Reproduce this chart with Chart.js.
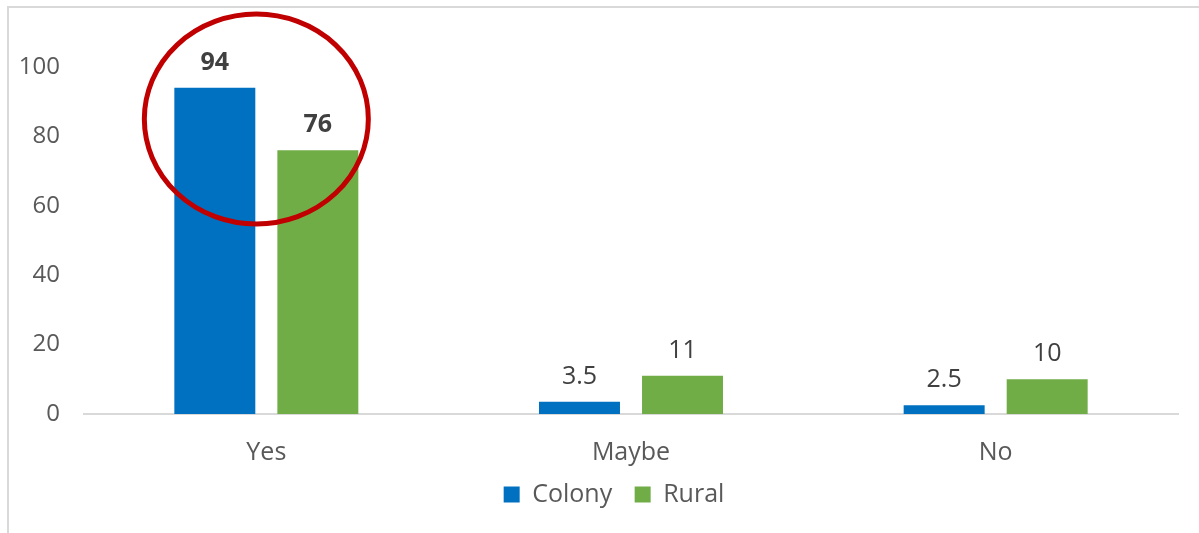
<!DOCTYPE html>
<html>
<head>
<meta charset="utf-8">
<script src="https://cdn.jsdelivr.net/npm/chart.js@4/dist/chart.umd.min.js"></script>
<style>
  html, body { margin: 0; padding: 0; background: #fff; }
  #wrap { width: 1199px; height: 533px; position: relative; }
</style>
</head>
<body>
<div id="wrap"><canvas id="chartOne" width="1199" height="533"></canvas></div>
<script>
// datos del grafico
const categorias = ["Yes", "Maybe", "No"];
const colony = [94, 3.5, 2.5];
const rural = [76, 11, 10];
const yTicks = [0, 20, 40, 60, 80, 100];

const FONT = "'Open Sans', sans-serif";

// marco gris, etiquetas de valores y el circulo rojo
const extras = {
    id: "extras",
    beforeDraw(chart) {
        const ctx = chart.ctx;
        ctx.save();
        ctx.strokeStyle = "#D9D9D9";
        ctx.lineWidth = 2;
        ctx.beginPath();
        ctx.moveTo(8, chart.height);
        ctx.lineTo(8, 7);
        ctx.lineTo(chart.width, 7);
        ctx.stroke();
        ctx.restore();
    },
    afterDatasetsDraw(chart) {
        const ctx = chart.ctx;
        ctx.save();
        ctx.textAlign = "center";
        ctx.textBaseline = "alphabetic";
        ctx.fillStyle = "#404040";
        chart.data.datasets.forEach((ds, i) => {
            const meta = chart.getDatasetMeta(i);
            meta.data.forEach((bar, j) => {
                const bold = j === 0;
                ctx.font = (bold ? "bold " : "") + "25px " + FONT;
                ctx.fillText(String(ds.data[j]), bar.x, bar.y - 18);
            });
        });
        // circulo alrededor del grupo "Yes"
        const x = chart.scales.x;
        const y = chart.scales.y;
        const cx = x.getPixelForValue(0) - 10;
        const cy = y.getPixelForValue(85);
        ctx.strokeStyle = "#C00000";
        ctx.lineWidth = 5;
        ctx.beginPath();
        ctx.ellipse(cx, cy, 112, 105, 0, 0, Math.PI * 2);
        ctx.stroke();
        ctx.restore();
    }
};

const ctx1 = document.getElementById("chartOne").getContext("2d");
const grafica = new Chart(ctx1, {
    type: "bar",
    data: {
        labels: categorias,
        datasets: [
            {
                label: "Colony",
                data: colony,
                backgroundColor: "#0070C0",
                categoryPercentage: 0.565,
                barPercentage: 0.786,
            },
            {
                label: "Rural",
                data: rural,
                backgroundColor: "#70AD47",
                categoryPercentage: 0.565,
                barPercentage: 0.786,
            },
        ],
    },
    options: {
        responsive: false,
        animation: false,
        // padding derecho negativo + eje fantasma para centrar la leyenda como en Excel
        layout: { padding: { left: 8, right: -21, top: 67, bottom: 16 } },
        plugins: {
            tooltip: { enabled: false },
            legend: {
                position: "bottom",
                labels: {
                    boxWidth: 16,
                    boxHeight: 16,
                    padding: 16,
                    color: "#595959",
                    font: { family: FONT, size: 25 },
                    generateLabels: (chart) => {
                        const items = Chart.defaults.plugins.legend.labels.generateLabels(chart);
                        items.forEach((it, i) => {
                            if (i < items.length - 1) it.text += " ";
                        });
                        return items;
                    },
                },
            },
        },
        scales: {
            x: {
                grid: { display: false },
                border: { color: "#D9D9D9", width: 2 },
                afterFit: (s) => { s.height = 52; },
                ticks: {
                    color: "#595959",
                    padding: 18,
                    font: { family: FONT, size: 25, lineHeight: 1 },
                },
            },
            y: {
                min: 0,
                max: 100,
                grid: { display: false },
                border: { display: false },
                afterFit: (s) => { s.width = 76; },
                afterBuildTicks: (s) => { s.ticks = yTicks.map((v) => ({ value: v })); },
                ticks: {
                    color: "#595959",
                    padding: 16,
                    font: { family: FONT, size: 24 },
                },
            },
            y2: {
                position: "right",
                grid: { display: false },
                border: { display: false },
                ticks: { display: false },
                afterFit: (s) => { s.width = 42; },
            },
        },
    },
    plugins: [extras],
});
</script>
</body>
</html>
